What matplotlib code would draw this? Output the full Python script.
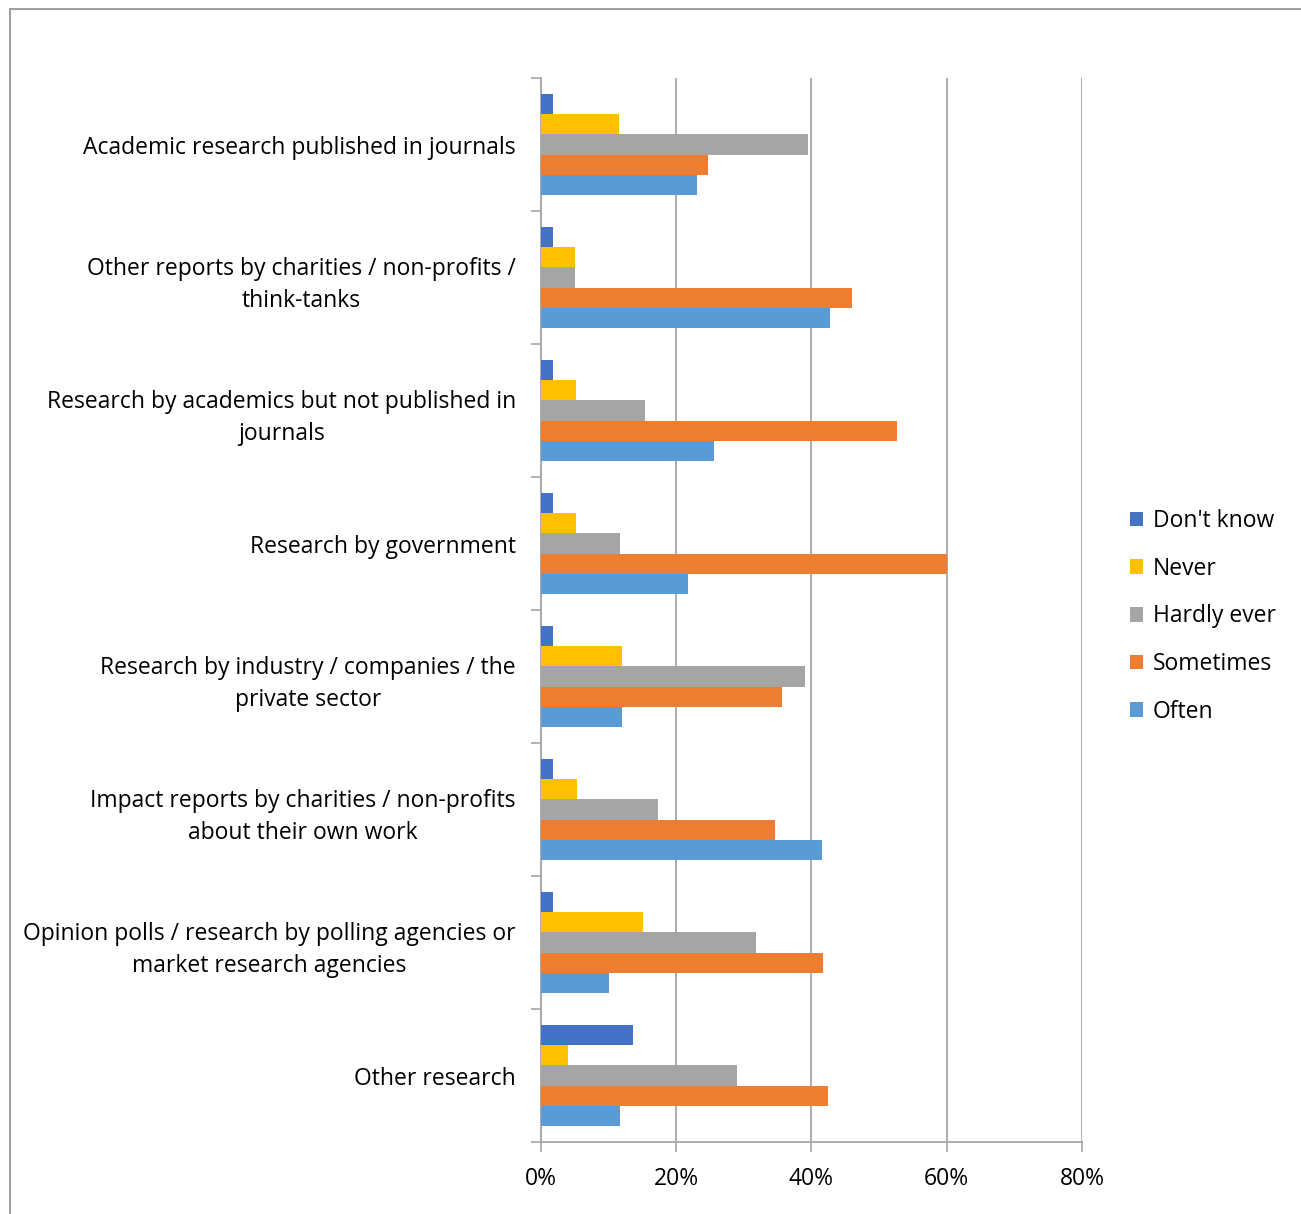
import numpy as np
import matplotlib.pyplot as plt
from matplotlib.patches import Rectangle

categories = [
    "Academic research published in journals",
    "Other reports by charities / non-profits /\nthink-tanks",
    "Research by academics but not published in\njournals",
    "Research by government",
    "Research by industry / companies / the\nprivate sector",
    "Impact reports by charities / non-profits\nabout their own work",
    "Opinion polls / research by polling agencies or\nmarket research agencies",
    "Other research",
]
series = ["Don't know", "Never", "Hardly ever", "Sometimes", "Often"]
dont_know = [1.8, 1.8, 1.8, 1.8, 1.8, 1.8, 1.8, 13.6]
never = [11.5, 5.0, 5.2, 5.2, 12.0, 5.3, 15.1, 4.0]
hardly_ever = [39.5, 5.0, 15.4, 11.7, 39.1, 17.3, 31.8, 29.0]
sometimes = [24.7, 46.0, 52.7, 60.0, 35.7, 34.6, 41.7, 42.5]
often = [23.1, 42.7, 25.6, 21.7, 12.0, 41.6, 10.1, 11.7]
colors = ["#4472c4", "#ffc000", "#a5a5a5", "#ed7d31", "#5b9bd5"]

plt.rcParams['font.family'] = ['Open Sans', 'DejaVu Sans']

fig = plt.figure(figsize=(13.01, 12.14), dpi=100)
ax = fig.add_axes([0.4158, 0.0593, 0.4159, 0.8764])

values = [dont_know, never, hardly_ever, sometimes, often]
y = np.arange(len(categories))
h = 0.152
for i, (name, vals) in enumerate(zip(series, values)):
    ax.barh(y + (i - 2) * h, vals, height=h, color=colors[i], label=name, zorder=3)

ax.set_xlim(0, 80)
ax.set_ylim(len(categories) - 0.5, -0.5)
ax.set_xticks([0, 20, 40, 60, 80])
ax.set_xticklabels(["0%", "20%", "40%", "60%", "80%"], fontsize=16.5)
ax.set_yticks(y)
ax.set_yticklabels(categories, fontsize=16.5, linespacing=1.45,
                   multialignment='center')
ax.tick_params(axis='y', length=0, pad=18)
ax.set_yticks(np.arange(len(categories) + 1) - 0.5, minor=True)
ax.tick_params(axis='y', which='minor', length=7, color='#a6a6a6', width=1.2)
ax.tick_params(axis='x', length=7, color='#a6a6a6', width=1.2, pad=11)
ax.xaxis.grid(True, color='#a6a6a6', linewidth=1.3, zorder=0)

for s in ['top', 'right']:
    ax.spines[s].set_visible(False)
for s in ['left', 'bottom']:
    ax.spines[s].set_color('#a6a6a6')
    ax.spines[s].set_linewidth(1.3)

handles, labels = ax.get_legend_handles_labels()
ax.legend(handles, labels, loc='center left', bbox_to_anchor=(1.05, 0.494),
          frameon=False, fontsize=16.5, handlelength=0.6, handleheight=0.6,
          handletextpad=0.4, labelspacing=1.03)

fig.patches.append(Rectangle((10 / 1301, -0.1), 1.2, 1 - 9 / 1214 + 0.1,
                             transform=fig.transFigure, fill=False,
                             edgecolor='#8c8c8c', linewidth=1.2))

fig.savefig("out.png", dpi=100)
